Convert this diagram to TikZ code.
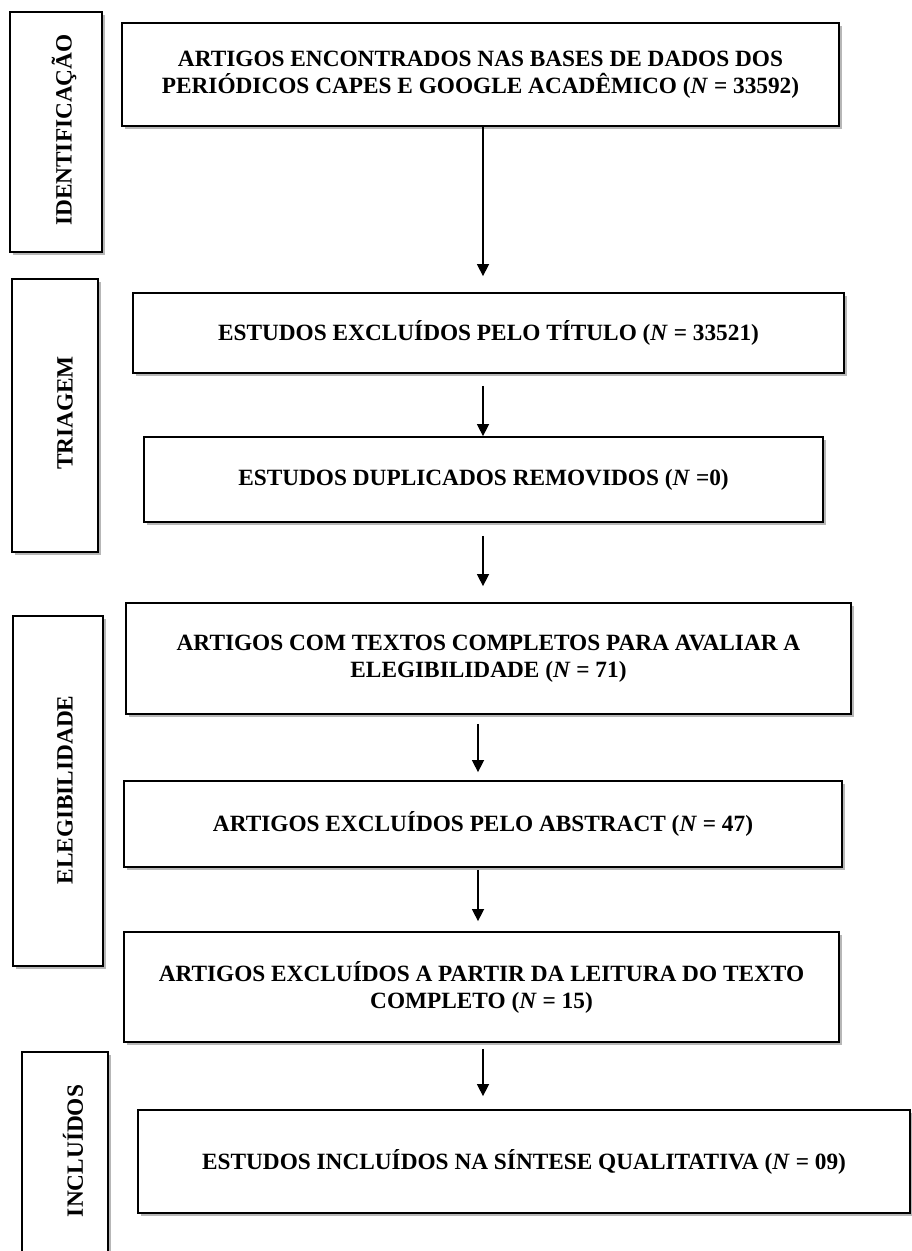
\documentclass[tikz,border=0pt]{standalone}
\usepackage{fontspec}
\setmainfont{Liberation Serif}
\usetikzlibrary{arrows.meta,shadows}
\tikzset{
  box/.style={draw=black, line width=1.8pt, fill=white, rectangle, inner sep=0pt,
    drop shadow={shadow xshift=3pt, shadow yshift=-3pt, fill=black!40, opacity=0.7},
    font=\fontsize{23.3}{27}\selectfont\bfseries, align=center},
  sidelabel/.style={rotate=90, font=\fontsize{23.3}{27}\selectfont\bfseries, inner sep=0pt},
  arr/.style={-{Triangle[width=12pt,length=12pt]}, line width=1.5pt}
}
\newcommand{\Nit}{\textit{N}}
\begin{document}
\begin{tikzpicture}[x=1pt,y=-1pt]
\useasboundingbox[fill=white] (0,0) rectangle (912,1251);
% side boxes
\node[box, minimum width=92pt, minimum height=240pt] (s1) at (56,132) {};
\node[sidelabel] (l1) at (64,130) {IDENTIFICAÇÃO};
\node[box, minimum width=86pt, minimum height=273pt] (s2) at (55,415.5) {};
\node[sidelabel] (l2) at (65,413) {TRIAGEM};
\node[box, minimum width=90pt, minimum height=350pt] (s3) at (58,791) {};
\node[sidelabel] (l3) at (65,790) {ELEGIBILIDADE};
\node[box, minimum width=86pt, minimum height=230pt] (s4) at (65,1167) {};
\node[sidelabel] (l4) at (73,1151) {INCLUÍDOS};
% main boxes
\node[box, minimum width=717pt, minimum height=103pt] (b1) at (480.5,74.5)
  {ARTIGOS ENCONTRADOS NAS BASES DE DADOS DOS\\PERIÓDICOS CAPES E GOOGLE ACADÊMICO (\Nit{} = 33592)};
\node[box, minimum width=711pt, minimum height=80pt] (b2) at (488.5,333)
  {ESTUDOS EXCLUÍDOS PELO TÍTULO (\Nit{} = 33521)};
\node[box, minimum width=679pt, minimum height=85pt] (b3) at (483.5,479.5)
  {ESTUDOS DUPLICADOS REMOVIDOS (\Nit{} =0)};
\node[box, minimum width=725pt, minimum height=111pt] (b4) at (488.5,658.5)
  {ARTIGOS COM TEXTOS COMPLETOS PARA AVALIAR A\\ELEGIBILIDADE (\Nit{} = 71)};
\node[box, minimum width=718pt, minimum height=86pt] (b5) at (483,824)
  {ARTIGOS EXCLUÍDOS PELO ABSTRACT (\Nit{} = 47)};
\node[box, minimum width=715pt, minimum height=110pt] (b6) at (481.5,987)
  {ARTIGOS EXCLUÍDOS A PARTIR DA LEITURA DO TEXTO\\COMPLETO (\Nit{} = 15)};
\node[box, minimum width=772pt, minimum height=103pt] (b7) at (524,1161.5)
  {ESTUDOS INCLUÍDOS NA SÍNTESE QUALITATIVA (\Nit{} = 09)};
% arrow columns
\coordinate (ax) at (483,0);
\coordinate (bx) at (478,0);
\draw[arr, shorten >=16pt] (b1.south -| ax) -- (b2.north -| ax);
\draw[arr, shorten <=12pt] (b2.south -| ax) -- (b3.north -| ax);
\draw[arr, shorten <=13pt, shorten >=16pt] (b3.south -| ax) -- (b4.north -| ax);
\draw[arr, shorten <=9pt, shorten >=8pt] (b4.south -| bx) -- (b5.north -| bx);
\draw[arr, shorten <=2pt, shorten >=10pt] (b5.south -| bx) -- (b6.north -| bx);
\draw[arr, shorten <=6pt, shorten >=13pt] (b6.south -| ax) -- (b7.north -| ax);
\end{tikzpicture}
\end{document}
